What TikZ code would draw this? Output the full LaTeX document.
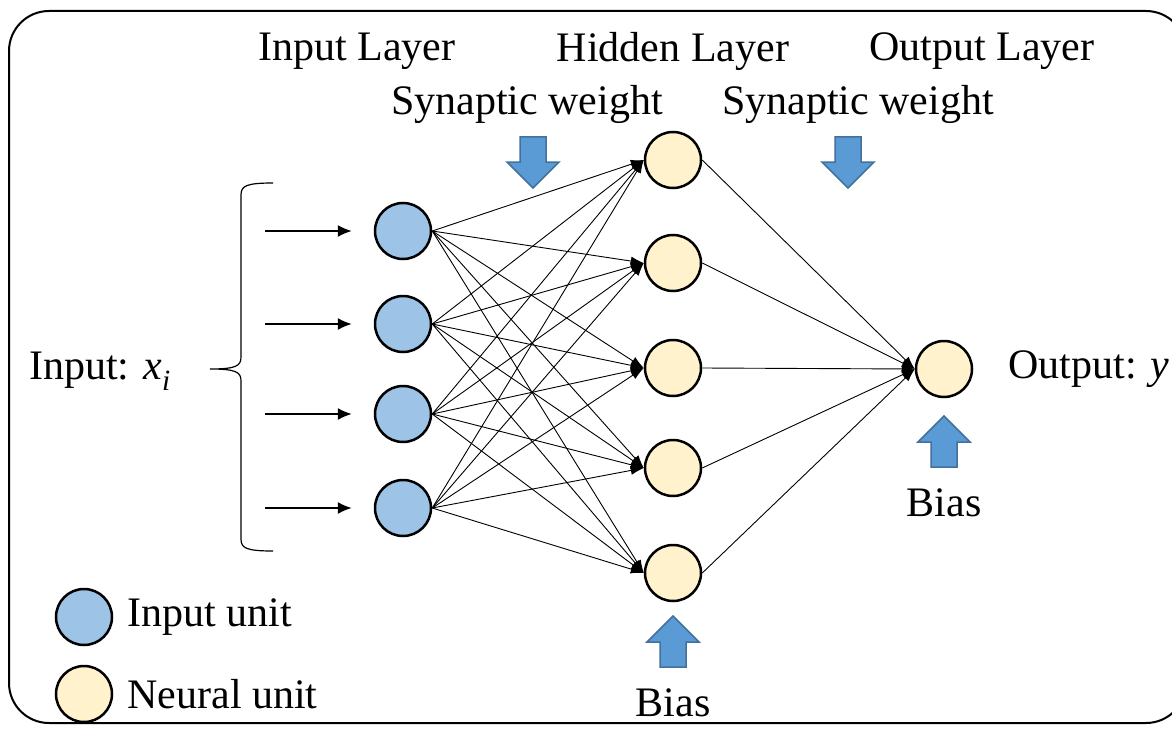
\documentclass[tikz,border=0pt]{standalone}
\usepackage{fontspec}
\setmainfont{Liberation Serif}
\usetikzlibrary{arrows.meta}
\usetikzlibrary{positioning}

\definecolor{inblue}{HTML}{9DC3E6}
\definecolor{neuyellow}{HTML}{FFF2CC}
\definecolor{arrblue}{HTML}{5B9BD5}
\definecolor{arredge}{HTML}{41719C}

\begin{document}
\begin{tikzpicture}
[x=1pt,y=-1pt,%
  unit/.style={shape=circle,minimum size=56pt,inner sep=0pt,draw,line width=2.5pt},%
  inunit/.style={unit,fill=inblue},%
  neunit/.style={unit,fill=neuyellow},%
  txt/.style={inner sep=0pt},%
  conn/.style={-{Latex[length=13pt,width=9pt]},line width=0.9pt},%
  feed/.style={-{Latex[length=14pt,width=12pt]},line width=1.4pt,shorten >=22pt},%
  bigarrow/.pic={\draw[fill=arrblue,draw=arredge,line width=1.5pt]
    (-13,0) -- (-13,25) -- (-26,25) -- (0,51) -- (26,25) -- (13,25) -- (13,0) -- cycle;}]
\fontsize{42}{50}\selectfont
\useasboundingbox (0,0) rectangle (1172,733);
\draw[line width=2pt,rounded corners=40pt] (9,11) rectangle (1186,723);

% layer titles
\node (lblin) at (357,51) {Input Layer};
\node (lblhid) at (673,51) {Hidden Layer};
\node (lblout) at (982,51) {Output Layer};
\node (synin) at (527,104) {Synaptic weight};
\node (synout) at (858,104) {Synaptic weight};
\pic at (533,137) {bigarrow};
\pic at (848,137) {bigarrow};

% units
\foreach \y [count=\i] in {231,324,414,508} {
  \node[inunit] (in\i) at (403,\y) {};
  \coordinate (src\i) at (265,\y);
  \draw[feed] (src\i) -- (in\i);
}
\foreach \y [count=\j] in {160,263,368,468,573}
  \node[neunit] (hid\j) at (673,\y) {};
\node[neunit] (out) at (944,369) {};

% weights
\foreach \i in {1,...,4}
  \foreach \j in {1,...,5}
    \draw[conn] (in\i.east) -- (hid\j.west);
\foreach \j in {1,...,5}
  \draw[conn] (hid\j.east) -- (out.west);

% input brace
\draw[line width=1.2pt] (273,183) .. controls (246,183) and (241,186) .. (241,195)
  -- (241,357) .. controls (241,366) and (236,369) .. (210,369)
  .. controls (236,369) and (241,372) .. (241,381)
  -- (241,539) .. controls (241,548) and (246,551) .. (273,551);
\node[txt] (inlbl) at (100,371) {Input: \textit{x}\textsubscript{\textit{i}}};
\node[txt,right=35pt of out] (outlbl) {Output: \textit{y}};

% biases
\pic[rotate=180] at (673,667) {bigarrow};
\pic[rotate=180] at (944,467) {bigarrow};
\node (biashid) at (673,703) {Bias};
\node (biasout) at (944,503) {Bias};

% legend
\node[inunit] (keyin) at (84,617) {};
\node[neunit] (keyneu) at (84,694) {};
\node[txt,right=14pt of keyin] (keyintxt) {Input unit};
\node[txt,right=14pt of keyneu] (keyneutxt) {Neural unit};
\end{tikzpicture}
\end{document}
